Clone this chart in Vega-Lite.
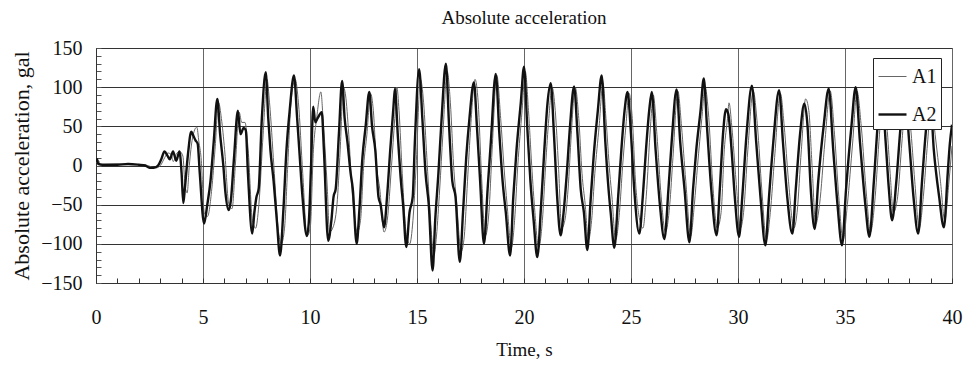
{
  "$schema": "https://vega.github.io/schema/vega-lite/v6.json",
  "width": 856,
  "height": 235,
  "autosize": {"type": "none"},
  "padding": {"left": 96, "top": 48, "right": 11, "bottom": 84},
  "background": "white",
  "title": {"text": "Absolute acceleration", "font": "Liberation Serif", "fontSize": 19, "fontWeight": "normal", "color": "#111", "anchor": "middle", "frame": "group", "offset": 10},
  "config": {
    "view": {"stroke": "#999", "strokeWidth": 1},
    "font": "Liberation Serif",
    "axis": {"labelFont": "Liberation Serif", "titleFont": "Liberation Serif"},
    "legend": {"labelFont": "Liberation Serif"}
  },
  "data": {"values": [
{"s":"A1","t":0,"v":3},{"s":"A1","t":0.13,"v":6},{"s":"A1","t":0.19,"v":1},{"s":"A1","t":1.05,"v":2},{"s":"A1","t":2.05,"v":1},{"s":"A1","t":2.41,"v":0},{"s":"A1","t":2.61,"v":-2},{"s":"A1","t":2.81,"v":-3},{"s":"A1","t":3.01,"v":0},{"s":"A1","t":3.21,"v":10},{"s":"A1","t":3.36,"v":16},{"s":"A1","t":3.51,"v":14},{"s":"A1","t":3.61,"v":5},{"s":"A1","t":3.76,"v":15},{"s":"A1","t":3.91,"v":18},{"s":"A1","t":4.06,"v":12},{"s":"A1","t":4.16,"v":-25},{"s":"A1","t":4.26,"v":-35},{"s":"A1","t":4.36,"v":0},{"s":"A1","t":4.51,"v":35},{"s":"A1","t":4.71,"v":49},{"s":"A1","t":4.81,"v":30},{"s":"A1","t":4.91,"v":10},{"s":"A1","t":5.06,"v":-60},{"s":"A1","t":5.21,"v":-65},{"s":"A1","t":5.41,"v":-30},{"s":"A1","t":5.56,"v":20},{"s":"A1","t":5.73,"v":80},{"s":"A1","t":5.86,"v":60},{"s":"A1","t":6.01,"v":20},{"s":"A1","t":6.21,"v":-50},{"s":"A1","t":6.36,"v":-55},{"s":"A1","t":6.51,"v":0},{"s":"A1","t":6.69,"v":68},{"s":"A1","t":6.81,"v":55},{"s":"A1","t":6.96,"v":55},{"s":"A1","t":7.11,"v":20},{"s":"A1","t":7.31,"v":-70},{"s":"A1","t":7.46,"v":-80},{"s":"A1","t":7.61,"v":-50},{"s":"A1","t":7.81,"v":40},{"s":"A1","t":7.99,"v":110},{"s":"A1","t":8.11,"v":80},{"s":"A1","t":8.31,"v":0},{"s":"A1","t":8.51,"v":-80},{"s":"A1","t":8.66,"v":-100},{"s":"A1","t":8.81,"v":-80},{"s":"A1","t":8.96,"v":0},{"s":"A1","t":9.11,"v":80},{"s":"A1","t":9.31,"v":110},{"s":"A1","t":9.46,"v":80},{"s":"A1","t":9.66,"v":-10},{"s":"A1","t":9.86,"v":-90},{"s":"A1","t":10.01,"v":-80},{"s":"A1","t":10.16,"v":20},{"s":"A1","t":10.31,"v":60},{"s":"A1","t":10.51,"v":94},{"s":"A1","t":10.61,"v":60},{"s":"A1","t":10.81,"v":-30},{"s":"A1","t":10.91,"v":-85},{"s":"A1","t":11.06,"v":-80},{"s":"A1","t":11.26,"v":-50},{"s":"A1","t":11.41,"v":20},{"s":"A1","t":11.56,"v":100},{"s":"A1","t":11.66,"v":90},{"s":"A1","t":11.81,"v":40},{"s":"A1","t":11.96,"v":-30},{"s":"A1","t":12.21,"v":-85},{"s":"A1","t":12.36,"v":-70},{"s":"A1","t":12.51,"v":0},{"s":"A1","t":12.66,"v":40},{"s":"A1","t":12.83,"v":92},{"s":"A1","t":12.96,"v":70},{"s":"A1","t":13.11,"v":0},{"s":"A1","t":13.26,"v":-30},{"s":"A1","t":13.46,"v":-85},{"s":"A1","t":13.61,"v":-70},{"s":"A1","t":13.81,"v":0},{"s":"A1","t":13.96,"v":60},{"s":"A1","t":14.06,"v":100},{"s":"A1","t":14.16,"v":70},{"s":"A1","t":14.31,"v":-10},{"s":"A1","t":14.51,"v":-90},{"s":"A1","t":14.66,"v":-100},{"s":"A1","t":14.81,"v":-70},{"s":"A1","t":14.96,"v":0},{"s":"A1","t":15.16,"v":110},{"s":"A1","t":15.31,"v":80},{"s":"A1","t":15.46,"v":10},{"s":"A1","t":15.61,"v":-60},{"s":"A1","t":15.79,"v":-115},{"s":"A1","t":15.91,"v":-90},{"s":"A1","t":16.06,"v":-30},{"s":"A1","t":16.21,"v":40},{"s":"A1","t":16.41,"v":120},{"s":"A1","t":16.56,"v":80},{"s":"A1","t":16.71,"v":0},{"s":"A1","t":16.86,"v":-50},{"s":"A1","t":17.06,"v":-110},{"s":"A1","t":17.21,"v":-90},{"s":"A1","t":17.36,"v":-20},{"s":"A1","t":17.51,"v":50},{"s":"A1","t":17.71,"v":110},{"s":"A1","t":17.86,"v":80},{"s":"A1","t":18.01,"v":-10},{"s":"A1","t":18.19,"v":-90},{"s":"A1","t":18.36,"v":-60},{"s":"A1","t":18.51,"v":20},{"s":"A1","t":18.73,"v":115},{"s":"A1","t":18.91,"v":60},{"s":"A1","t":19.06,"v":0},{"s":"A1","t":19.21,"v":-50},{"s":"A1","t":19.41,"v":-105},{"s":"A1","t":19.56,"v":-70},{"s":"A1","t":19.71,"v":0},{"s":"A1","t":19.91,"v":70},{"s":"A1","t":20.06,"v":120},{"s":"A1","t":20.21,"v":70},{"s":"A1","t":20.36,"v":0},{"s":"A1","t":20.51,"v":-60},{"s":"A1","t":20.68,"v":-105},{"s":"A1","t":20.86,"v":-70},{"s":"A1","t":21.01,"v":0},{"s":"A1","t":21.16,"v":60},{"s":"A1","t":21.31,"v":100},{"s":"A1","t":21.46,"v":70},{"s":"A1","t":21.61,"v":0},{"s":"A1","t":21.76,"v":-80},{"s":"A1","t":21.91,"v":-70},{"s":"A1","t":22.06,"v":-30},{"s":"A1","t":22.21,"v":40},{"s":"A1","t":22.39,"v":100},{"s":"A1","t":22.56,"v":60},{"s":"A1","t":22.71,"v":-10},{"s":"A1","t":22.86,"v":-50},{"s":"A1","t":23.01,"v":-95},{"s":"A1","t":23.16,"v":-70},{"s":"A1","t":23.31,"v":-10},{"s":"A1","t":23.51,"v":50},{"s":"A1","t":23.69,"v":105},{"s":"A1","t":23.83,"v":60},{"s":"A1","t":24.01,"v":-10},{"s":"A1","t":24.11,"v":-40},{"s":"A1","t":24.28,"v":-95},{"s":"A1","t":24.46,"v":-60},{"s":"A1","t":24.61,"v":0},{"s":"A1","t":24.76,"v":50},{"s":"A1","t":24.91,"v":92},{"s":"A1","t":25.06,"v":60},{"s":"A1","t":25.21,"v":-20},{"s":"A1","t":25.41,"v":-70},{"s":"A1","t":25.56,"v":-80},{"s":"A1","t":25.71,"v":-40},{"s":"A1","t":25.91,"v":50},{"s":"A1","t":26.04,"v":90},{"s":"A1","t":26.21,"v":40},{"s":"A1","t":26.41,"v":-40},{"s":"A1","t":26.61,"v":-85},{"s":"A1","t":26.81,"v":-50},{"s":"A1","t":26.96,"v":10},{"s":"A1","t":27.19,"v":95},{"s":"A1","t":27.36,"v":50},{"s":"A1","t":27.56,"v":-20},{"s":"A1","t":27.79,"v":-90},{"s":"A1","t":27.96,"v":-50},{"s":"A1","t":28.11,"v":0},{"s":"A1","t":28.31,"v":60},{"s":"A1","t":28.46,"v":100},{"s":"A1","t":28.61,"v":70},{"s":"A1","t":28.81,"v":-20},{"s":"A1","t":29.03,"v":-80},{"s":"A1","t":29.21,"v":-60},{"s":"A1","t":29.36,"v":20},{"s":"A1","t":29.51,"v":60},{"s":"A1","t":29.58,"v":80},{"s":"A1","t":29.71,"v":50},{"s":"A1","t":29.91,"v":-20},{"s":"A1","t":30.11,"v":-80},{"s":"A1","t":30.26,"v":-60},{"s":"A1","t":30.46,"v":20},{"s":"A1","t":30.71,"v":95},{"s":"A1","t":30.91,"v":50},{"s":"A1","t":31.11,"v":-30},{"s":"A1","t":31.33,"v":-95},{"s":"A1","t":31.51,"v":-60},{"s":"A1","t":31.71,"v":10},{"s":"A1","t":31.98,"v":92},{"s":"A1","t":32.16,"v":50},{"s":"A1","t":32.36,"v":-20},{"s":"A1","t":32.61,"v":-80},{"s":"A1","t":32.76,"v":-60},{"s":"A1","t":32.96,"v":20},{"s":"A1","t":33.16,"v":85},{"s":"A1","t":33.31,"v":70},{"s":"A1","t":33.46,"v":0},{"s":"A1","t":33.63,"v":-75},{"s":"A1","t":33.81,"v":-50},{"s":"A1","t":34.06,"v":30},{"s":"A1","t":34.31,"v":95},{"s":"A1","t":34.51,"v":40},{"s":"A1","t":34.71,"v":-40},{"s":"A1","t":34.91,"v":-95},{"s":"A1","t":35.11,"v":-50},{"s":"A1","t":35.36,"v":30},{"s":"A1","t":35.56,"v":95},{"s":"A1","t":35.76,"v":50},{"s":"A1","t":36.01,"v":-40},{"s":"A1","t":36.19,"v":-85},{"s":"A1","t":36.41,"v":-40},{"s":"A1","t":36.61,"v":40},{"s":"A1","t":36.79,"v":95},{"s":"A1","t":36.96,"v":50},{"s":"A1","t":37.11,"v":-10},{"s":"A1","t":37.26,"v":-60},{"s":"A1","t":37.46,"v":-40},{"s":"A1","t":37.66,"v":30},{"s":"A1","t":37.86,"v":88},{"s":"A1","t":38.06,"v":50},{"s":"A1","t":38.26,"v":-20},{"s":"A1","t":38.47,"v":-80},{"s":"A1","t":38.66,"v":-40},{"s":"A1","t":38.86,"v":30},{"s":"A1","t":39.04,"v":80},{"s":"A1","t":39.21,"v":40},{"s":"A1","t":39.46,"v":-20},{"s":"A1","t":39.66,"v":-70},{"s":"A1","t":39.86,"v":-20},{"s":"A1","t":40,"v":25},
{"s":"A2","t":0,"v":5},{"s":"A2","t":0.05,"v":8},{"s":"A2","t":0.1,"v":2},{"s":"A2","t":0.3,"v":1},{"s":"A2","t":1,"v":1},{"s":"A2","t":1.5,"v":2},{"s":"A2","t":2,"v":1},{"s":"A2","t":2.3,"v":0},{"s":"A2","t":2.5,"v":-3},{"s":"A2","t":2.7,"v":-3},{"s":"A2","t":2.9,"v":0},{"s":"A2","t":3.05,"v":8},{"s":"A2","t":3.2,"v":18},{"s":"A2","t":3.35,"v":12},{"s":"A2","t":3.45,"v":8},{"s":"A2","t":3.6,"v":18},{"s":"A2","t":3.75,"v":6},{"s":"A2","t":3.9,"v":18},{"s":"A2","t":4,"v":-10},{"s":"A2","t":4.08,"v":-48},{"s":"A2","t":4.15,"v":-30},{"s":"A2","t":4.3,"v":15},{"s":"A2","t":4.45,"v":43},{"s":"A2","t":4.55,"v":38},{"s":"A2","t":4.65,"v":32},{"s":"A2","t":4.75,"v":28},{"s":"A2","t":4.85,"v":-10},{"s":"A2","t":5.05,"v":-74},{"s":"A2","t":5.2,"v":-50},{"s":"A2","t":5.35,"v":-20},{"s":"A2","t":5.5,"v":30},{"s":"A2","t":5.67,"v":85},{"s":"A2","t":5.8,"v":40},{"s":"A2","t":5.95,"v":0},{"s":"A2","t":6.05,"v":-35},{"s":"A2","t":6.2,"v":-57},{"s":"A2","t":6.3,"v":-45},{"s":"A2","t":6.45,"v":10},{"s":"A2","t":6.63,"v":70},{"s":"A2","t":6.75,"v":40},{"s":"A2","t":6.9,"v":48},{"s":"A2","t":7,"v":45},{"s":"A2","t":7.1,"v":-10},{"s":"A2","t":7.3,"v":-87},{"s":"A2","t":7.4,"v":-60},{"s":"A2","t":7.5,"v":-40},{"s":"A2","t":7.6,"v":-30},{"s":"A2","t":7.75,"v":60},{"s":"A2","t":7.93,"v":119},{"s":"A2","t":8.05,"v":60},{"s":"A2","t":8.15,"v":20},{"s":"A2","t":8.3,"v":-20},{"s":"A2","t":8.45,"v":-70},{"s":"A2","t":8.6,"v":-115},{"s":"A2","t":8.75,"v":-60},{"s":"A2","t":8.9,"v":20},{"s":"A2","t":9.05,"v":70},{"s":"A2","t":9.25,"v":115},{"s":"A2","t":9.4,"v":60},{"s":"A2","t":9.5,"v":20},{"s":"A2","t":9.65,"v":-40},{"s":"A2","t":9.85,"v":-90},{"s":"A2","t":9.95,"v":-70},{"s":"A2","t":10.05,"v":0},{"s":"A2","t":10.15,"v":75},{"s":"A2","t":10.25,"v":55},{"s":"A2","t":10.35,"v":60},{"s":"A2","t":10.55,"v":68},{"s":"A2","t":10.65,"v":20},{"s":"A2","t":10.85,"v":-96},{"s":"A2","t":11,"v":-70},{"s":"A2","t":11.1,"v":-40},{"s":"A2","t":11.2,"v":-30},{"s":"A2","t":11.35,"v":40},{"s":"A2","t":11.5,"v":108},{"s":"A2","t":11.62,"v":60},{"s":"A2","t":11.75,"v":30},{"s":"A2","t":11.9,"v":-10},{"s":"A2","t":12,"v":-30},{"s":"A2","t":12.18,"v":-100},{"s":"A2","t":12.3,"v":-60},{"s":"A2","t":12.45,"v":10},{"s":"A2","t":12.6,"v":50},{"s":"A2","t":12.77,"v":94},{"s":"A2","t":12.9,"v":50},{"s":"A2","t":13.05,"v":20},{"s":"A2","t":13.2,"v":-40},{"s":"A2","t":13.3,"v":-50},{"s":"A2","t":13.46,"v":-79},{"s":"A2","t":13.6,"v":-40},{"s":"A2","t":13.75,"v":20},{"s":"A2","t":13.9,"v":75},{"s":"A2","t":13.97,"v":98},{"s":"A2","t":14.1,"v":40},{"s":"A2","t":14.25,"v":-20},{"s":"A2","t":14.35,"v":-50},{"s":"A2","t":14.5,"v":-104},{"s":"A2","t":14.65,"v":-60},{"s":"A2","t":14.8,"v":-40},{"s":"A2","t":14.9,"v":30},{"s":"A2","t":15.1,"v":123},{"s":"A2","t":15.25,"v":60},{"s":"A2","t":15.4,"v":-10},{"s":"A2","t":15.55,"v":-50},{"s":"A2","t":15.73,"v":-134},{"s":"A2","t":15.85,"v":-70},{"s":"A2","t":16,"v":-10},{"s":"A2","t":16.15,"v":60},{"s":"A2","t":16.35,"v":130},{"s":"A2","t":16.5,"v":50},{"s":"A2","t":16.65,"v":-20},{"s":"A2","t":16.8,"v":-40},{"s":"A2","t":17,"v":-123},{"s":"A2","t":17.15,"v":-60},{"s":"A2","t":17.3,"v":10},{"s":"A2","t":17.45,"v":60},{"s":"A2","t":17.66,"v":106},{"s":"A2","t":17.8,"v":50},{"s":"A2","t":17.95,"v":-20},{"s":"A2","t":18.13,"v":-100},{"s":"A2","t":18.3,"v":-30},{"s":"A2","t":18.45,"v":30},{"s":"A2","t":18.68,"v":117},{"s":"A2","t":18.85,"v":40},{"s":"A2","t":19,"v":-20},{"s":"A2","t":19.15,"v":-60},{"s":"A2","t":19.35,"v":-115},{"s":"A2","t":19.5,"v":-40},{"s":"A2","t":19.65,"v":20},{"s":"A2","t":19.85,"v":80},{"s":"A2","t":20,"v":126},{"s":"A2","t":20.15,"v":50},{"s":"A2","t":20.3,"v":-20},{"s":"A2","t":20.45,"v":-70},{"s":"A2","t":20.62,"v":-117},{"s":"A2","t":20.8,"v":-50},{"s":"A2","t":20.95,"v":20},{"s":"A2","t":21.1,"v":80},{"s":"A2","t":21.25,"v":105},{"s":"A2","t":21.4,"v":40},{"s":"A2","t":21.55,"v":-40},{"s":"A2","t":21.71,"v":-89},{"s":"A2","t":21.85,"v":-60},{"s":"A2","t":22,"v":-10},{"s":"A2","t":22.15,"v":50},{"s":"A2","t":22.34,"v":101},{"s":"A2","t":22.5,"v":40},{"s":"A2","t":22.65,"v":-30},{"s":"A2","t":22.8,"v":-60},{"s":"A2","t":22.96,"v":-108},{"s":"A2","t":23.1,"v":-50},{"s":"A2","t":23.25,"v":10},{"s":"A2","t":23.45,"v":70},{"s":"A2","t":23.63,"v":115},{"s":"A2","t":23.8,"v":30},{"s":"A2","t":23.95,"v":-30},{"s":"A2","t":24.05,"v":-60},{"s":"A2","t":24.22,"v":-105},{"s":"A2","t":24.4,"v":-40},{"s":"A2","t":24.55,"v":20},{"s":"A2","t":24.7,"v":70},{"s":"A2","t":24.84,"v":94},{"s":"A2","t":25,"v":40},{"s":"A2","t":25.15,"v":-30},{"s":"A2","t":25.39,"v":-87},{"s":"A2","t":25.55,"v":-40},{"s":"A2","t":25.7,"v":20},{"s":"A2","t":25.85,"v":70},{"s":"A2","t":25.97,"v":94},{"s":"A2","t":26.15,"v":20},{"s":"A2","t":26.35,"v":-50},{"s":"A2","t":26.56,"v":-94},{"s":"A2","t":26.75,"v":-30},{"s":"A2","t":26.9,"v":30},{"s":"A2","t":27.13,"v":97},{"s":"A2","t":27.3,"v":30},{"s":"A2","t":27.5,"v":-30},{"s":"A2","t":27.73,"v":-98},{"s":"A2","t":27.9,"v":-30},{"s":"A2","t":28.05,"v":20},{"s":"A2","t":28.25,"v":70},{"s":"A2","t":28.4,"v":111},{"s":"A2","t":28.55,"v":50},{"s":"A2","t":28.75,"v":-30},{"s":"A2","t":29,"v":-89},{"s":"A2","t":29.15,"v":-30},{"s":"A2","t":29.3,"v":40},{"s":"A2","t":29.44,"v":72},{"s":"A2","t":29.55,"v":65},{"s":"A2","t":29.7,"v":20},{"s":"A2","t":29.85,"v":-40},{"s":"A2","t":30.05,"v":-91},{"s":"A2","t":30.2,"v":-40},{"s":"A2","t":30.4,"v":40},{"s":"A2","t":30.65,"v":102},{"s":"A2","t":30.85,"v":30},{"s":"A2","t":31.05,"v":-40},{"s":"A2","t":31.28,"v":-102},{"s":"A2","t":31.45,"v":-40},{"s":"A2","t":31.65,"v":30},{"s":"A2","t":31.92,"v":96},{"s":"A2","t":32.1,"v":30},{"s":"A2","t":32.3,"v":-40},{"s":"A2","t":32.54,"v":-87},{"s":"A2","t":32.7,"v":-30},{"s":"A2","t":32.9,"v":40},{"s":"A2","t":33.1,"v":79},{"s":"A2","t":33.25,"v":50},{"s":"A2","t":33.4,"v":-30},{"s":"A2","t":33.58,"v":-81},{"s":"A2","t":33.75,"v":-20},{"s":"A2","t":34,"v":50},{"s":"A2","t":34.24,"v":98},{"s":"A2","t":34.45,"v":20},{"s":"A2","t":34.65,"v":-50},{"s":"A2","t":34.86,"v":-102},{"s":"A2","t":35.05,"v":-30},{"s":"A2","t":35.3,"v":50},{"s":"A2","t":35.5,"v":100},{"s":"A2","t":35.7,"v":30},{"s":"A2","t":35.95,"v":-50},{"s":"A2","t":36.14,"v":-91},{"s":"A2","t":36.35,"v":-20},{"s":"A2","t":36.55,"v":60},{"s":"A2","t":36.72,"v":98},{"s":"A2","t":36.9,"v":30},{"s":"A2","t":37.05,"v":-30},{"s":"A2","t":37.2,"v":-70},{"s":"A2","t":37.4,"v":-20},{"s":"A2","t":37.6,"v":50},{"s":"A2","t":37.8,"v":92},{"s":"A2","t":38,"v":30},{"s":"A2","t":38.2,"v":-40},{"s":"A2","t":38.42,"v":-87},{"s":"A2","t":38.6,"v":-20},{"s":"A2","t":38.8,"v":50},{"s":"A2","t":38.98,"v":85},{"s":"A2","t":39.15,"v":20},{"s":"A2","t":39.4,"v":-40},{"s":"A2","t":39.62,"v":-79},{"s":"A2","t":39.8,"v":-10},{"s":"A2","t":39.9,"v":28},{"s":"A2","t":40,"v":52}
  ]},
  "mark": {"type": "line", "clip": true, "strokeJoin": "round", "interpolate": "monotone"},
  "encoding": {
    "x": {
      "field": "t", "type": "quantitative",
      "scale": {"domain": [0, 40], "nice": false, "zero": false},
      "axis": {
        "title": "Time, s",
        "values": [0,1,2,3,4,5,6,7,8,9,10,11,12,13,14,15,16,17,18,19,20,21,22,23,24,25,26,27,28,29,30,31,32,33,34,35,36,37,38,39,40],
        "labelExpr": "datum.value % 5 === 0 ? datum.label : ''",
        "grid": true,
        "gridColor": "#666",
        "gridWidth": 1,
        "gridOpacity": {"condition": {"test": "datum.value % 5 === 0", "value": 1}, "value": 0},
        "domainColor": "#333",
        "tickColor": "#333",
        "tickSize": -5,
        "labelFont": "Liberation Serif",
        "labelFontSize": 20,
        "labelColor": "#111",
        "labelPadding": 29,
        "labelFlush": false,
        "titleFont": "Liberation Serif",
        "titleFontSize": 19,
        "titleFontWeight": "normal",
        "titleColor": "#111",
        "titlePadding": 13
      }
    },
    "y": {
      "field": "v", "type": "quantitative",
      "scale": {"domain": [-150, 150], "nice": false},
      "axis": {
        "title": "Absolute acceleration, gal",
        "values": [-150,-140,-130,-120,-110,-100,-90,-80,-70,-60,-50,-40,-30,-20,-10,0,10,20,30,40,50,60,70,80,90,100,110,120,130,140,150],
        "labelExpr": "datum.value % 50 === 0 ? datum.label : ''",
        "grid": true,
        "gridColor": "#333",
        "gridWidth": 1,
        "gridOpacity": {"condition": {"test": "datum.value % 50 === 0", "value": 1}, "value": 0},
        "domainColor": "#333",
        "tickColor": "#555",
        "tickSize": -5,
        "labelFont": "Liberation Serif",
        "labelFontSize": 20,
        "labelColor": "#111",
        "labelPadding": 19,
        "labelFlush": false,
        "titleFont": "Liberation Serif",
        "titleFontSize": 22,
        "titleFontWeight": "normal",
        "titleColor": "#111",
        "titlePadding": 7
      }
    },
    "color": {
      "field": "s", "type": "nominal",
      "scale": {"domain": ["A1", "A2"], "range": ["#666666", "#111111"]},
      "legend": {
        "title": null,
        "orient": "none",
        "legendX": 777,
        "legendY": 10,
        "fillColor": "white",
        "strokeColor": "#222",
        "padding": 4,
        "rowPadding": 12,
        "symbolType": "stroke",
        "symbolSize": 784,
        "labelFont": "Liberation Serif",
        "labelFontSize": 20,
        "labelColor": "#111",
        "labelOffset": 4
      }
    },
    "strokeWidth": {
      "field": "s", "type": "nominal",
      "scale": {"domain": ["A1", "A2"], "range": [1, 2.4]},
      "legend": {
        "title": null,
        "orient": "none",
        "legendX": 777,
        "legendY": 10,
        "fillColor": "white",
        "strokeColor": "#222",
        "padding": 4,
        "rowPadding": 12,
        "symbolType": "stroke",
        "symbolSize": 784,
        "labelFont": "Liberation Serif",
        "labelFontSize": 20,
        "labelColor": "#111",
        "labelOffset": 4
      }
    }
  }
}
